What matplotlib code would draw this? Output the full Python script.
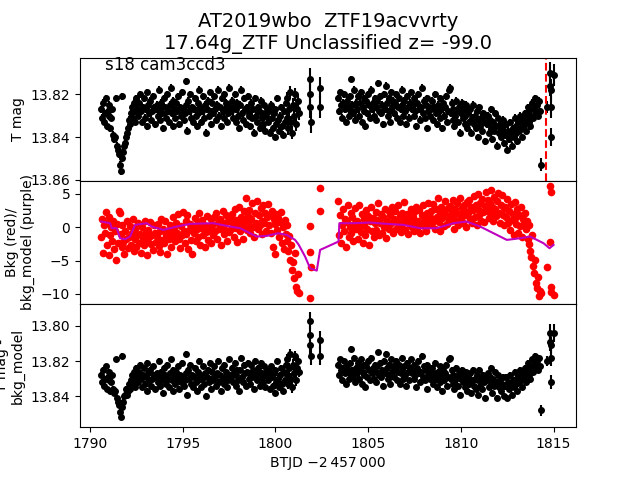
import numpy as np
import matplotlib
matplotlib.use('Agg')
import matplotlib.pyplot as plt

# ---- light curve values ----
# first orbit, BTJD (day rows of 20 cadences)
t_a = [
    1790.60, 1790.65, 1790.70, 1790.75, 1790.80, 1790.85, 1790.90, 1790.95, 1791.00, 1791.05,
    1791.10, 1791.15, 1791.20, 1791.25, 1791.30, 1791.35, 1791.40, 1791.45, 1791.50, 1791.55,
    1791.60, 1791.65, 1791.70, 1791.75, 1791.80, 1791.85, 1791.90, 1791.95, 1792.00, 1792.05,
    1792.10, 1792.15, 1792.20, 1792.25, 1792.30, 1792.35, 1792.40, 1792.45, 1792.50, 1792.55,
    1792.60, 1792.65, 1792.70, 1792.75, 1792.80, 1792.85, 1792.90, 1792.95, 1793.00, 1793.05,
    1793.10, 1793.15, 1793.20, 1793.25, 1793.30, 1793.35, 1793.40, 1793.45, 1793.50, 1793.55,
    1793.60, 1793.65, 1793.70, 1793.75, 1793.80, 1793.85, 1793.90, 1793.95, 1794.00, 1794.05,
    1794.10, 1794.15, 1794.20, 1794.25, 1794.30, 1794.35, 1794.40, 1794.45, 1794.50, 1794.55,
    1794.60, 1794.65, 1794.70, 1794.75, 1794.80, 1794.85, 1794.90, 1794.95, 1795.00, 1795.05,
    1795.10, 1795.15, 1795.20, 1795.25, 1795.30, 1795.35, 1795.40, 1795.45, 1795.50, 1795.55,
    1795.60, 1795.65, 1795.70, 1795.75, 1795.80, 1795.85, 1795.90, 1795.95, 1796.00, 1796.05,
    1796.10, 1796.15, 1796.20, 1796.25, 1796.30, 1796.35, 1796.40, 1796.45, 1796.50, 1796.55,
    1796.60, 1796.65, 1796.70, 1796.75, 1796.80, 1796.85, 1796.90, 1796.95, 1797.00, 1797.05,
    1797.10, 1797.15, 1797.20, 1797.25, 1797.30, 1797.35, 1797.40, 1797.45, 1797.50, 1797.55,
    1797.60, 1797.65, 1797.70, 1797.75, 1797.80, 1797.85, 1797.90, 1797.95, 1798.00, 1798.05,
    1798.10, 1798.15, 1798.20, 1798.25, 1798.30, 1798.35, 1798.40, 1798.45, 1798.50, 1798.55,
    1798.60, 1798.65, 1798.70, 1798.75, 1798.80, 1798.85, 1798.90, 1798.95, 1799.00, 1799.05,
    1799.10, 1799.15, 1799.20, 1799.25, 1799.30, 1799.35, 1799.40, 1799.45, 1799.50, 1799.55,
    1799.60, 1799.65, 1799.70, 1799.75, 1799.80, 1799.85, 1799.90, 1799.95, 1800.00, 1800.05,
    1800.10, 1800.15, 1800.20, 1800.25, 1800.30, 1800.35, 1800.40, 1800.45, 1800.50, 1800.55,
    1800.60, 1800.65, 1800.70, 1800.75, 1800.80, 1800.85, 1800.90, 1800.95, 1801.00, 1801.05,
    1801.10, 1801.15, 1801.20, 1801.25,
]
# T mag, in mmag above 13.80
tmag_a = [
    27, 31, 24, 33, 29, 22, 35, 28, 30, 25, 36, 31, 27, 39, 41, 40, 22, 44, 46, 48,
    53, 56, 21, 50, 47, 44, 43, 40, 38, 36, 32, 34, 29, 26, 31, 24, 28, 33, 22, 27,
    30, 24, 20, 28, 33, 26, 22, 31, 27, 35, 19, 25, 29, 23, 32, 28, 21, 26, 34, 27,
    25, 30, 18, 27, 32, 24, 29, 36, 22, 26, 31, 20, 28, 33, 25, 17, 29, 35, 23, 27,
    31, 24, 28, 21, 34, 26, 30, 19, 27, 32, 29, 25, 14, 37, 23, 28, 20, 31, 26, 33,
    27, 22, 30, 35, 24, 29, 18, 26, 33, 28, 21, 31, 25, 38, 27, 23, 30, 19, 28, 34,
    24, 29, 21, 27, 32, 25, 18, 30, 26, 35, 22, 28, 31, 20, 27, 24, 33, 29, 17, 26,
    28, 23, 31, 26, 20, 33, 27, 24, 30, 36, 25, 18, 29, 32, 22, 27, 34, 26, 21, 30,
    29, 35, 24, 31, 27, 38, 22, 30, 33, 26, 28, 36, 23, 31, 29, 34, 25, 37, 30, 27,
    33, 28, 38, 25, 31, 36, 29, 40, 27, 34, 22, 32, 37, 30, 26, 35, 39, 28, 33, 24,
    31, 22, 36, 27, 19, 33, 38, 25, 30, 20, 34, 27, 23, 29,
]
# T mag - bkg_model, mmag above 13.80
diff_a = [
    28, 32, 25, 34, 30, 23, 36, 29, 31, 26, 37, 32, 28, 36, 38, 37, 19, 41, 43, 45,
    49, 52, 17, 46, 43, 40, 39, 36, 39, 37, 33, 36, 31, 28, 33, 26, 30, 35, 24, 29,
    32, 26, 22, 30, 35, 28, 24, 33, 29, 37, 21, 27, 31, 25, 34, 30, 23, 28, 36, 29,
    27, 32, 20, 29, 34, 26, 31, 38, 24, 28, 33, 22, 30, 35, 27, 19, 31, 37, 25, 29,
    33, 26, 30, 23, 36, 28, 32, 21, 29, 34, 31, 27, 16, 39, 25, 30, 22, 33, 28, 35,
    29, 24, 32, 37, 26, 31, 20, 28, 35, 30, 23, 33, 27, 40, 29, 25, 32, 21, 30, 36,
    26, 31, 23, 29, 34, 27, 20, 32, 28, 37, 24, 30, 33, 22, 29, 26, 35, 31, 19, 28,
    29, 24, 32, 27, 21, 34, 28, 25, 31, 37, 25, 18, 29, 32, 22, 27, 34, 26, 21, 30,
    27, 33, 22, 29, 25, 36, 20, 28, 31, 24, 26, 34, 21, 29, 27, 32, 23, 35, 28, 25,
    31, 26, 36, 23, 29, 34, 27, 38, 25, 32, 20, 30, 35, 28, 24, 33, 37, 26, 31, 22,
    28, 19, 33, 24, 16, 30, 35, 22, 27, 17, 31, 24, 20, 26,
]
bkg_a = [
    -1.5, 1.2, -3.8, 0.4, -0.9, 2.3, -2.6, 0.8, -4.2, 1.6, -1.2, 0.1, -2.0, 1.0, -3.3, -0.6, -4.9, 0.5, -2.4, 2.5,
    2.2, -1.0, -3.0, 0.3, -2.2, -4.0, -0.5, -1.8, 0.9, -3.1, -1.4, 0.2, -2.6, -0.8, 1.3, -3.6, -1.7, -0.2, -2.9, -1.1,
    0.6, -2.3, -1.0, -3.9, 0.1, -1.6, -2.7, 1.0, -0.7, -2.0, -4.1, -0.4, -1.5, 0.8, -2.5, -1.2, -3.4, 0.3, -0.9, -2.2,
    -1.3, 0.5, -2.8, -0.6, -3.7, 1.2, -1.9, -0.2, -2.4, 0.9, -1.1, -4.0, -0.5, -1.8, 0.4, -2.9, -0.8, 1.6, -1.6, -0.3,
    -2.1, 0.7, -0.9, 2.0, -1.7, -3.1, 0.2, -1.2, 2.3, -0.6, -2.4, 0.9, -1.0, 1.8, -3.3, -0.4, 0.5, -1.9, -4.0, 0.0,
    -0.8, 1.4, -2.0, -0.3, 0.8, -1.5, 2.1, -2.6, -0.1, 1.1, -1.2, 0.4, -3.0, -0.7, 1.7, -1.9, 0.2, -0.5, 1.3, -2.3,
    0.3, -1.1, 1.6, -0.6, 2.2, -1.8, 0.7, -0.2, 1.2, -2.7, 0.1, 2.4, -1.0, 0.6, -0.4, 1.9, -2.1, 0.9, -0.7, 1.4,
    -0.3, 2.0, 0.5, -1.4, 2.8, -0.1, 1.1, -2.2, 0.8, 3.0, -0.6, 1.5, 0.2, -1.7, 2.4, 0.9, 4.3, -0.4, 1.7, 0.4,
    2.6, -0.8, 1.3, 3.6, 0.1, -1.5, 2.1, 0.7, 3.9, -0.2, 1.8, 0.4, 2.9, -1.0, 1.0, 3.3, 0.6, 2.2, -0.5, 1.5,
    3.5, 0.3, 1.9, -0.9, 2.5, -2.9, 1.2, -4.0, 0.5, 2.0, -0.4, 1.4, -1.5, 0.8, 2.3, -2.4, 0.1, -3.2, 1.1, -1.0,
    -2.0, 0.4, -3.5, -1.3, -4.9, -2.6, -6.4, -5.2, -7.6, -3.9, -8.9, -9.5, -7.0, -9.9,
]

# handful of points in the gap
t_gap = [1801.85, 1801.87, 1801.89, 1801.91, 1802.40, 1802.43]
tmag_gap = [13, 20, 26, 33, 17, 26]
diff_gap = [-3, 5, 11, 17, 8, 17]
bkg_gap = [-10.6, -3.7, 0.2, -5.9, 5.8, 2.4]
err_gap = [0.005, 0.005, 0.005, 0.005, 0.005, 0.005]

# second orbit
t_b = [
    1803.40, 1803.45, 1803.50, 1803.55, 1803.60, 1803.65, 1803.70, 1803.75, 1803.80, 1803.85,
    1803.90, 1803.95, 1804.00, 1804.05, 1804.10, 1804.15, 1804.20, 1804.25, 1804.30, 1804.35,
    1804.40, 1804.45, 1804.50, 1804.55, 1804.60, 1804.65, 1804.70, 1804.75, 1804.80, 1804.85,
    1804.90, 1804.95, 1805.00, 1805.05, 1805.10, 1805.15, 1805.20, 1805.25, 1805.30, 1805.35,
    1805.40, 1805.45, 1805.50, 1805.55, 1805.60, 1805.65, 1805.70, 1805.75, 1805.80, 1805.85,
    1805.90, 1805.95, 1806.00, 1806.05, 1806.10, 1806.15, 1806.20, 1806.25, 1806.30, 1806.35,
    1806.40, 1806.45, 1806.50, 1806.55, 1806.60, 1806.65, 1806.70, 1806.75, 1806.80, 1806.85,
    1806.90, 1806.95, 1807.00, 1807.05, 1807.10, 1807.15, 1807.20, 1807.25, 1807.30, 1807.35,
    1807.40, 1807.45, 1807.50, 1807.55, 1807.60, 1807.65, 1807.70, 1807.75, 1807.80, 1807.85,
    1807.90, 1807.95, 1808.00, 1808.05, 1808.10, 1808.15, 1808.20, 1808.25, 1808.30, 1808.35,
    1808.40, 1808.45, 1808.50, 1808.55, 1808.60, 1808.65, 1808.70, 1808.75, 1808.80, 1808.85,
    1808.90, 1808.95, 1809.00, 1809.05, 1809.10, 1809.15, 1809.20, 1809.25, 1809.30, 1809.35,
    1809.40, 1809.45, 1809.50, 1809.55, 1809.60, 1809.65, 1809.70, 1809.75, 1809.80, 1809.85,
    1809.90, 1809.95, 1810.00, 1810.05, 1810.10, 1810.15, 1810.20, 1810.25, 1810.30, 1810.35,
    1810.40, 1810.45, 1810.50, 1810.55, 1810.60, 1810.65, 1810.70, 1810.75, 1810.80, 1810.85,
    1810.90, 1810.95, 1811.00, 1811.05, 1811.10, 1811.15, 1811.20, 1811.25, 1811.30, 1811.35,
    1811.40, 1811.45, 1811.50, 1811.55, 1811.60, 1811.65, 1811.70, 1811.75, 1811.80, 1811.85,
    1811.90, 1811.95, 1812.00, 1812.05, 1812.10, 1812.15, 1812.20, 1812.25, 1812.30, 1812.35,
    1812.40, 1812.45, 1812.50, 1812.55, 1812.60, 1812.65, 1812.70, 1812.75, 1812.80, 1812.85,
    1812.90, 1812.95, 1813.00, 1813.05, 1813.10, 1813.15, 1813.20, 1813.25, 1813.30, 1813.35,
    1813.40, 1813.45, 1813.50, 1813.55, 1813.60, 1813.65, 1813.70, 1813.75, 1813.80, 1813.85,
    1813.90, 1813.95, 1814.00, 1814.05, 1814.10, 1814.15, 1814.20, 1814.25,
]
tmag_b = [
    22, 28, 19, 25, 31, 24, 20, 27, 33, 23, 26, 30, 21, 28, 13, 25, 29, 18, 32, 24,
    27, 21, 30, 24, 19, 33, 26, 22, 28, 35, 23, 29, 20, 25, 31, 18, 27, 24, 30, 22,
    26, 32, 23, 15, 28, 21, 29, 25, 34, 20, 27, 16, 24, 30, 22, 28, 33, 19, 26, 23,
    29, 24, 20, 31, 26, 22, 33, 27, 18, 25, 30, 23, 28, 34, 21, 26, 31, 24, 19, 27,
    25, 30, 22, 28, 35, 24, 20, 27, 32, 26, 17, 29, 23, 31, 25, 36, 22, 28, 26, 30,
    27, 23, 32, 26, 20, 29, 34, 25, 28, 22, 31, 27, 36, 24, 30, 26, 21, 33, 28, 18,
    17, 29, 24, 32, 27, 35, 30, 23, 28, 33, 26, 38, 29, 24, 31, 27, 34, 30, 25, 36,
    29, 33, 27, 38, 31, 25, 34, 30, 36, 28, 40, 32, 26, 35, 31, 37, 29, 33, 42, 30,
    34, 30, 38, 32, 27, 36, 41, 33, 37, 29, 35, 44, 31, 38, 34, 40, 36, 32, 43, 37,
    39, 34, 46, 37, 41, 33, 38, 44, 36, 40, 31, 38, 35, 42, 33, 37, 30, 36, 40, 32,
    34, 29, 37, 31, 26, 33, 28, 35, 30, 24, 31, 27, 22, 29, 25, 30, 23, 28,
]
diff_b = [
    22, 28, 19, 25, 31, 24, 20, 27, 33, 23, 26, 30, 21, 28, 13, 25, 29, 18, 32, 24,
    27, 21, 30, 24, 19, 33, 26, 22, 28, 35, 23, 29, 20, 25, 31, 18, 27, 24, 30, 22,
    26, 32, 23, 15, 28, 21, 29, 25, 34, 20, 27, 16, 24, 30, 22, 28, 33, 19, 26, 23,
    29, 24, 20, 31, 26, 22, 33, 27, 18, 25, 30, 23, 28, 34, 21, 26, 31, 24, 19, 27,
    25, 30, 22, 28, 35, 24, 20, 27, 32, 26, 17, 29, 23, 31, 25, 36, 22, 28, 26, 30,
    28, 24, 33, 27, 21, 30, 35, 26, 29, 23, 32, 28, 37, 25, 31, 27, 22, 34, 29, 19,
    18, 30, 25, 33, 28, 36, 31, 24, 29, 34, 27, 39, 30, 25, 32, 28, 35, 31, 26, 37,
    29, 33, 27, 38, 31, 25, 34, 30, 36, 28, 39, 31, 25, 34, 30, 36, 28, 32, 41, 29,
    31, 27, 35, 29, 24, 33, 38, 30, 34, 26, 32, 41, 28, 35, 31, 37, 33, 29, 40, 34,
    34, 29, 41, 32, 36, 28, 33, 39, 31, 35, 26, 33, 30, 37, 28, 32, 25, 31, 35, 27,
    29, 24, 32, 26, 21, 28, 23, 30, 25, 19, 26, 22, 17, 24, 20, 25, 18, 23,
]
bkg_b = [
    3.9, -1.2, 1.8, -2.4, 0.3, 2.7, -0.6, 1.2, -2.9, 0.8, 3.3, -1.5, 0.1, 2.2, -0.9, 1.5, -2.0, 0.5, 2.9, -0.3,
    1.0, -1.8, 3.4, 0.2, -0.7, 2.0, -2.3, 1.3, 0.4, -1.1, 2.6, -0.2, 1.7, -2.6, 0.9, 3.1, -0.5, 1.4, -1.4, 0.7,
    2.3, -0.4, 1.1, 3.6, -1.2, 0.6, 2.0, -0.8, 1.5, 0.0, 2.8, -1.6, 1.0, 0.3, 2.4, -0.3, 1.8, 0.7, 3.0, -0.9,
    1.2, 2.5, -0.2, 0.8, 3.3, 0.1, 1.7, -0.7, 2.2, 0.5, 1.4, 3.8, -0.4, 0.9, 2.0, -1.0, 1.3, 0.4, 2.7, 0.0,
    1.6, -0.5, 2.3, 0.7, 3.1, -0.1, 1.0, 2.6, -0.9, 0.6, 1.9, 3.4, 0.2, 1.2, -0.6, 2.1, 0.9, 3.7, 0.4, 1.5,
    2.4, 0.6, 3.5, 1.1, -0.3, 2.8, 1.6, 4.3, 0.8, 2.0, -0.5, 3.0, 1.4, 2.5, 0.2, 3.9, 1.8, 0.5, 2.9, 1.2,
    3.2, 0.9, 2.2, 4.0, 1.5, -0.2, 2.7, 1.0, 3.6, 0.4, 2.0, 4.4, 1.3, 2.9, 0.6, 3.3, 1.8, 2.4, 0.1, 3.8,
    2.1, 4.1, 1.2, 3.0, 0.7, 2.6, 4.6, 1.6, 3.4, 0.3, 2.8, 5.0, 1.9, 3.7, 1.0, 4.2, 2.3, 0.8, 3.2, 5.3,
    2.5, 4.0, 1.4, 3.6, 5.6, 2.0, 3.1, 0.9, 4.5, 2.7, 1.7, 3.9, 5.1, 2.2, 0.6, 3.4, 4.8, 1.8, 2.9, 0.4,
    3.0, 1.5, 4.2, 0.7, 2.4, -0.4, 3.5, 1.1, 2.0, -1.2, 3.8, 0.5, 1.6, 2.7, -0.8, 1.9, 0.2, 3.1, -1.5, 1.3,
    0.6, 2.2, -0.3, 1.0, -1.8, -2.5, 0.4, -3.6, -4.5, -1.2, -5.8, -6.9, -4.9, -8.3, -9.1, -7.4, -10.3, -9.6,
]

# last few noisy cadences
t_end = [1814.30, 1814.65, 1814.80, 1814.82, 1814.84, 1814.86, 1814.88, 1815.00]
tmag_end = [53, 26, 10, 16, 18, 26, 40, 11]
diff_end = [48, 20, 4, 9, 11, 18, 32, 4]
bkg_end = [-9.8, -6.0, -2.2, 6.1, 5.2, -9.7, -8.9, -10.2]
err_end = [0.003, 0.003, 0.005, 0.005, 0.005, 0.005, 0.004, 0.005]

err_main = 0.0016
err_tail = 0.003

# background model (purple line)
model_t = [1790.60, 1791.08, 1791.17, 1791.44, 1791.62, 1791.89, 1792.16, 1792.43, 1793.06, 1793.33,
           1793.96, 1794.68, 1795.40, 1796.65, 1797.37, 1798.09, 1798.63, 1798.99, 1799.53, 1800.16,
           1800.61, 1801.06, 1801.25, 1801.60, 1801.87, 1802.23, 1802.41, 1803.40, 1803.45, 1804.21,
           1805.11, 1806.00, 1806.90, 1807.80, 1808.70, 1809.60, 1810.30, 1811.04, 1811.76, 1812.48,
           1813.20, 1813.74, 1814.10, 1814.46, 1814.78, 1815.00]
model_v = [0.85, 0.6, -0.15, -0.15, -1.65, -1.8, -1.4, 0.35, 0.6, 0.1,
           -0.4, 0.1, 0.5, 0.6, 0.2, -0.15, -0.9, -1.4, -1.3, -0.9,
           -1.15, -1.9, -2.6, -4.4, -6.15, -6.5, -3.4, -2.15, 0.6, 0.6,
           0.7, 0.5, 0.35, -0.15, -0.15, 0.6, 0.85, 0.1, -0.9, -1.9,
           -1.65, -1.4, -1.9, -2.4, -3.15, -2.65]

t_mark = 1814.6

# ---- assemble ----
t_all = np.array(t_a + t_gap + t_b + t_end)
tmag = 13.80 + np.array(tmag_a + tmag_gap + tmag_b + tmag_end) / 1000.0
diff = 13.80 + np.array(diff_a + diff_gap + diff_b + diff_end) / 1000.0
bkg = np.array(bkg_a + bkg_gap + bkg_b + bkg_end)
errs = np.array([err_main] * 200 + [err_tail] * 14 + err_gap + [err_main] * len(t_b) + err_end)

fig, (ax1, ax2, ax3) = plt.subplots(3, 1, sharex=True, figsize=(6.4, 4.8), dpi=100)
fig.subplots_adjust(hspace=0)

# top: raw light curve
ax1.errorbar(t_all, tmag, yerr=errs, fmt='ko', ms=4)
ax1.axvline(t_mark, color='r', ls='--')
ax1.set_ylim(13.8604, 13.8030)
ax1.set_yticks([13.82, 13.84, 13.86])
ax1.set_ylabel('T mag')
ax1.set_title('AT2019wbo  ZTF19acvvrty\n17.64g_ZTF Unclassified z= -99.0', fontsize=14)
ax1.text(0.05, 0.90, 's18 cam3ccd3', transform=ax1.transAxes, fontsize=12)

# middle: background
ax2.plot(t_all, bkg, 'ro', ms=4.5)
ax2.plot(model_t, model_v, color='m')
ax2.set_ylim(-11.5, 6.95)
ax2.set_yticks([5, 0, -5, -10])
ax2.set_ylabel('Bkg (red)/\nbkg_model (purple)')

# bottom: corrected
ax3.errorbar(t_all, diff, yerr=errs, fmt='ko', ms=4)
ax3.set_ylim(13.8576, 13.7875)
ax3.set_yticks([13.80, 13.82, 13.84])
ax3.set_ylabel('T mag -\nbkg_model')
ax3.set_xlabel('BTJD \u22122\u2009457\u2009000')

for ax in (ax1, ax2):
    ax.tick_params(axis='x', bottom=False)
ax3.set_xlim(1789.46, 1816.21)
ax3.set_xticks([1790, 1795, 1800, 1805, 1810, 1815])

plt.savefig('out.png', dpi=100)
